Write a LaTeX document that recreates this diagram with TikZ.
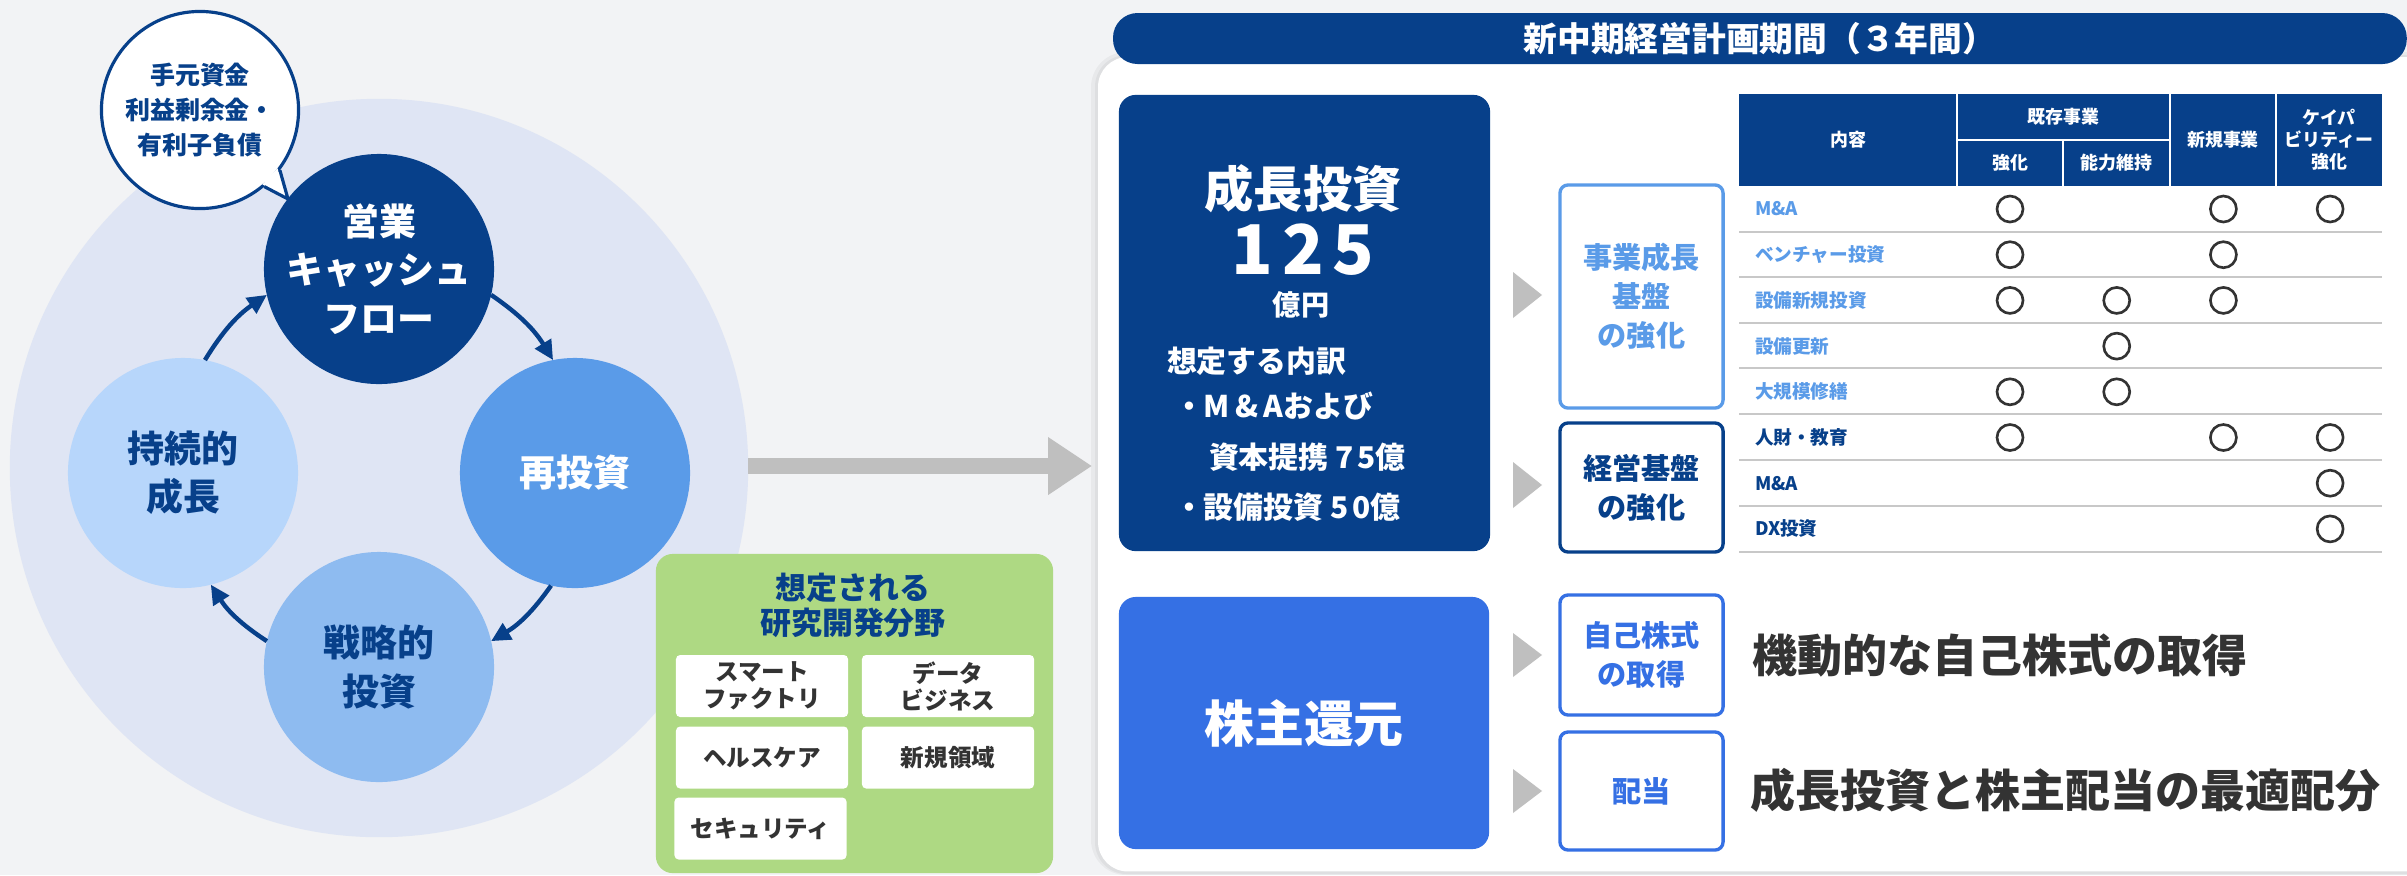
\documentclass[tikz,border=0pt]{standalone}
\usepackage{fontspec}
\setmainfont{Noto Sans CJK JP}
\usetikzlibrary{arrows.meta}
\definecolor{bgc}{HTML}{F2F3F5}
\definecolor{ringc}{HTML}{DFE5F4}
\definecolor{navy}{HTML}{07408A}
\definecolor{midblue}{HTML}{5A9BE8}
\definecolor{softblue}{HTML}{8EBBF0}
\definecolor{paleblue}{HTML}{B7D6FB}
\definecolor{brightblue}{HTML}{3570E4}
\definecolor{greenc}{HTML}{AED983}
\definecolor{grayarrow}{HTML}{BFBFBF}
\definecolor{darktext}{HTML}{333333}
\definecolor{rowline}{HTML}{C8C8C8}
\newcommand\fs[2]{\fontsize{#1pt}{#2pt}\selectfont\bfseries}
\begin{document}
\begin{tikzpicture}[x=0.01cm,y=-0.01cm,
  every node/.style={inner sep=0pt, outer sep=0pt, align=center},
  cyc/.style={circle, minimum size=2.30cm, font=\fs{10.5}{13.7}},
  arr/.style={draw=navy, line width=1.25pt, -{Triangle[length=5.5pt,width=5.2pt]}},
  wbox/.style={fill=white, rounded corners=1.2pt, minimum width=1.72cm, minimum height=0.62cm, font=\fs{6.7}{7.7}, text=darktext},
  rbox/.style={fill=white, rounded corners=2.3pt, line width=0.95pt, minimum width=1.63cm, font=\fs{8.3}{11.1}},
  wtxt/.style={text=white, font=\fs{8.5}{9}, anchor=west},
  bigtxt/.style={anchor=west, text=darktext, font=\fs{12.8}{14}},
  hdtxt/.style={text=white, font=\fs{5.1}{6.3}},
  lbl/.style={anchor=west, font=\fs{5.3}{6}},
  okmark/.style={circle, draw=darktext, line width=0.75pt, minimum size=0.26cm},
  gtri/.style={fill=grayarrow}
]
\fill[bgc] (0,0) rectangle (2407,875);
\useasboundingbox (0,0) rectangle (2407,875);

% left cycle
\node[circle, fill=ringc, minimum size=7.38cm] (ring) at (379,468) {};
\node[circle, draw=navy, line width=0.9pt, fill=white, minimum size=1.97cm, font=\fs{7.1}{10}, text=navy] (bub) at (200,110) {手元資金\\利益剰余金・\\有利子負債};
\fill[white] (262.3,184.3) -- (288,199) -- (277.5,168.4) -- cycle;
\draw[navy, line width=0.9pt] (264.3,186.6) -- (288,199) -- (279.9,170.2);

\node[cyc, fill=navy, text=white] (cf) at (379,269) {営業\\キャッシュ\\フロー};
\node[cyc, fill=midblue, text=white] (re) at (575,473) {再投資};
\node[cyc, fill=softblue, text=navy] (st) at (379,667) {戦略的\\投資};
\node[cyc, fill=paleblue, text=navy] (su) at (183,473) {持続的\\成長};

\draw[arr] (cf.-13) to[bend left=12] (re.101);
\draw[arr] (re.-102) to[bend left=12] (st.13);
\draw[arr] (st.167) to[bend left=12] (su.-76);
\draw[arr] (su.79.5) to[bend left=12] (cf.-167);

% green box
\node[rounded corners=4.8pt, fill=greenc, minimum width=3.97cm, minimum height=3.19cm] (rd) at (854.5,713.5) {};
\node[font=\fs{8.8}{10}, text=navy] (rdt) at (853,605.5) {想定される\\研究開発分野};
\node[wbox] (sf) at (762,686) {スマート\\ファクトリ};
\node[wbox] (db) at (948,686) {データ\\ビジネス};
\node[wbox] (hc) at (762,757.5) {ヘルスケア};
\node[wbox] (nr) at (948,757.5) {新規領域};
\node[wbox] (sec) at (760.5,828.5) {セキュリティ};

% panel
\fill[black, opacity=0.04, rounded corners=10pt] (1091,52) rectangle (2460,875);
\fill[black, opacity=0.04, rounded corners=9pt] (1095,55) rectangle (2460,874);
\node[fill=white, rounded corners=8.5pt, minimum width=13.6cm, minimum height=8.14cm, anchor=north west] (panel) at (1098,57) {};

\coordinate (garrowend) at (1092,466);
\draw[grayarrow, line width=4.3pt, -{Triangle[length=12.5pt,width=15.6pt]}] (ring.east |- garrowend) -- (garrowend);

\node[fill=navy, rounded corners=7pt, minimum width=12.93cm, minimum height=0.51cm, anchor=north west, text=white, font=\fs{9.6}{10}] (hdr) at (1113,13) {新中期経営計画期間（３年間）};

% growth investment
\node[fill=navy, rounded corners=4.8pt, minimum width=3.71cm, minimum height=4.56cm] (grow) at (1304.5,323) {};
\node[text=white, font=\fs{14}{16}] (growt) at (1303,189) {成長投資};
\node[text=white, font=\fs{19.5}{20}] (gnum) at (1303,250) {1\kern2.5pt2\kern2.5pt5};
\node[text=white, font=\fs{8}{9}] (yen) at (1301,305) {億円};
\node[wtxt] (ut) at (1167,361) {想定する内訳};
\node[wtxt] (u1) at (1174,406) {・M\kern1.5pt\&\kern1.5ptAおよび};
\node[wtxt] (u2) at (1209,457) {資本提携\ 7\kern1pt5億};
\node[wtxt] (u3) at (1174,507) {・設備投資\ 5\kern1pt0億};

% shareholder return
\node[fill=brightblue, rounded corners=4.8pt, minimum width=3.70cm, minimum height=2.52cm, text=white, font=\fs{14.2}{16}] (sh) at (1304,723) {株主還元};

% gray triangles
\fill[gtri] (1513,272) -- (1542,295) -- (1513,318) -- cycle;
\fill[gtri] (1513,462) -- (1542,485) -- (1513,508) -- cycle;
\fill[gtri] (1513,633) -- (1542,655) -- (1513,677) -- cycle;
\fill[gtri] (1513,769) -- (1542,791) -- (1513,813) -- cycle;

% right boxes
\node[rbox, draw=midblue, text=midblue, minimum height=2.23cm] (jb) at (1641.5,296.5) {事業成長\\基盤\\の強化};
\node[rbox, draw=navy, text=navy, minimum height=1.29cm] (kb) at (1641.5,487.5) {経営基盤\\の強化};
\node[rbox, draw=brightblue, text=brightblue, minimum height=1.20cm] (jk) at (1641.5,655) {自己株式\\の取得};
\node[rbox, draw=brightblue, text=brightblue, minimum height=1.18cm] (hd) at (1641.5,791) {配当};

\node[bigtxt] (t1) at (1752,655) {機動的な自己株式の取得};
\node[bigtxt] (t2) at (1750,790) {成長投資と株主配当の最適配分};

% table
\fill[navy] (1739,94) rectangle (2382,186);
\draw[white, line width=0.6pt] (1957,94) -- (1957,186) (2170,94) -- (2170,186) (2276,94) -- (2276,186) (2063,140) -- (2063,186) (1957,140) -- (2170,140);
\node[hdtxt] (h1) at (1848,140) {内容};
\node[hdtxt] (h2) at (2063.5,117) {既存事業};
\node[hdtxt] (h3) at (2010,163) {強化};
\node[hdtxt] (h4) at (2116.5,163) {能力維持};
\node[hdtxt] (h5) at (2223,140) {新規事業};
\node[hdtxt] (h6) at (2329,140) {ケイパ\\ビリティー\\強化};
\foreach \y in {232,277,323,368,414,460,506,552}
  \draw[rowline, line width=0.6pt] (1739,\y) -- (2382,\y);
\node[lbl, text=midblue] (l1) at (1755,209) {M\&A};
\node[lbl, text=midblue] (l2) at (1755,254.7) {ベンチャー投資};
\node[lbl, text=midblue] (l3) at (1755,300.4) {設備新規投資};
\node[lbl, text=midblue] (l4) at (1755,346.1) {設備更新};
\node[lbl, text=midblue] (l5) at (1755,391.8) {大規模修繕};
\node[lbl, text=navy] (l6) at (1755,437.5) {人財・教育};
\node[lbl, text=navy] (l7) at (1755,483.2) {M\&A};
\node[lbl, text=navy] (l8) at (1755,528.9) {DX投資};
\foreach \c/\r in {1/1,3/1,4/1, 1/2,3/2, 1/3,2/3,3/3, 2/4, 1/5,2/5, 1/6,3/6,4/6, 4/7, 4/8}
  \node[okmark] (ok-\c-\r) at ({2010+106.7*(\c-1)},{209+45.7*(\r-1)}) {};
\end{tikzpicture}
\end{document}
